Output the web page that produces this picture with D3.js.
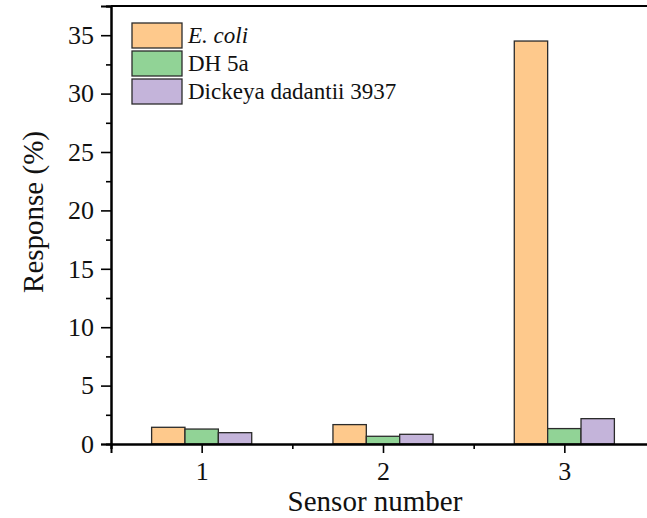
<!DOCTYPE html>
<html>
<head>
<meta charset="utf-8">
<script src="https://cdn.jsdelivr.net/npm/d3@7"></script>
<style>
  body { margin: 0; background: #fff; }
  svg, svg text { font-family: "Liberation Serif", "Times New Roman", serif !important; }
</style>
</head>
<body>
<div id="chart"></div>
<script>
// data
const sensors = [1, 2, 3];
const seriesNames = ["E. coli", "DH 5a", "Dickeya dadantii 3937"];
const ecoli = [1.43, 1.66, 34.5];
const dh5a = [1.28, 0.66, 1.32];
const dickeya = [0.97, 0.83, 2.17];
const colors = ["#fec98c", "#91d396", "#c4b4da"];
const yTicks = [0, 5, 10, 15, 20, 25, 30, 35];

const series = [ecoli, dh5a, dickeya];

const width = 647, height = 518;
const margin = {top: 6, right: -8, bottom: 74, left: 111};
const plotW = width - margin.left - margin.right;
const plotH = height - margin.top - margin.bottom;

const svg = d3.select("#chart").append("svg")
    .attr("width", width)
    .attr("height", height);

const g = svg.append("g")
    .attr("transform", "translate(" + margin.left + "," + margin.top + ")");

let xScale = d3.scaleLinear().domain([0.5, 3.5]).range([0, plotW]);
let yScale = d3.scaleLinear().domain([0, 37.5]).range([plotH, 0]);
const barW = xScale(0.684) - xScale(0.5); // one bar, 3 per group

// bars
series.forEach((vals, si) => {
    g.append("g").selectAll("rect")
        .data(vals)
        .enter().append("rect")
            .attr("x", (d, i) => xScale(sensors[i]) - 1.5 * barW + si * barW)
            .attr("y", (d) => yScale(d))
            .attr("width", barW)
            .attr("height", (d) => yScale(0) - yScale(d))
            .attr("fill", colors[si])
            .attr("stroke", "#2b2b2b")
            .attr("stroke-width", 1.3);
});

// x axis (major + minor)
let xAxis = d3.axisBottom(xScale).tickValues(sensors).tickFormat(d3.format("d")).tickSize(9).tickPadding(9);
let xg = g.append("g").attr("transform", "translate(0," + plotH + ")").call(xAxis);
let xMinor = d3.axisBottom(xScale).tickValues([0.5, 1.5, 2.5]).tickFormat("").tickSize(5);
let xmg = g.append("g").attr("transform", "translate(0," + plotH + ")").call(xMinor);

// y axis (major + minor)
let yAxis = d3.axisLeft(yScale).tickValues(yTicks).tickSize(10).tickPadding(7);
let yg = g.append("g").call(yAxis);
let yMinor = d3.axisLeft(yScale).tickValues([2.5, 7.5, 12.5, 17.5, 22.5, 27.5, 32.5, 37.5]).tickFormat("").tickSize(5);
let ymg = g.append("g").call(yMinor);

[xg, xmg, yg, ymg].forEach((ax) => {
    ax.attr("font-family", null);
    ax.select(".domain").attr("stroke", "#000").attr("stroke-width", 2);
    ax.selectAll(".tick line").attr("stroke", "#000").attr("stroke-width", 1.6);
    ax.selectAll("text")
        .style("font-size", "26px")
        .attr("fill", "#111");
});

// top frame line
g.append("line")
    .attr("x1", 0).attr("x2", plotW)
    .attr("y1", 0).attr("y2", 0)
    .attr("stroke", "#000").attr("stroke-width", 2);

// axis titles
svg.append("text")
    .attr("x", 375).attr("y", 511)
    .attr("text-anchor", "middle")
    .style("font-size", "29px")
    .attr("fill", "#111")
    .text("Sensor number");

svg.append("text")
    .attr("transform", "translate(43,212) rotate(-90)")
    .attr("text-anchor", "middle")
    .style("font-size", "29px")
    .attr("fill", "#111")
    .text("Response (%)");

// legend
const legend = svg.append("g").attr("transform", "translate(132,23)");
seriesNames.forEach((name, i) => {
    legend.append("rect")
        .attr("x", 0).attr("y", i * 28)
        .attr("width", 50).attr("height", 25)
        .attr("fill", colors[i])
        .attr("stroke", "#2b2b2b").attr("stroke-width", 1.3);
    legend.append("text")
        .attr("x", 56).attr("y", i * 28 + 20)
        .style("font-size", "23px")
        .attr("fill", "#111")
        .attr("font-style", i === 0 ? "italic" : "normal")
        .text(name);
});
</script>
</body>
</html>
